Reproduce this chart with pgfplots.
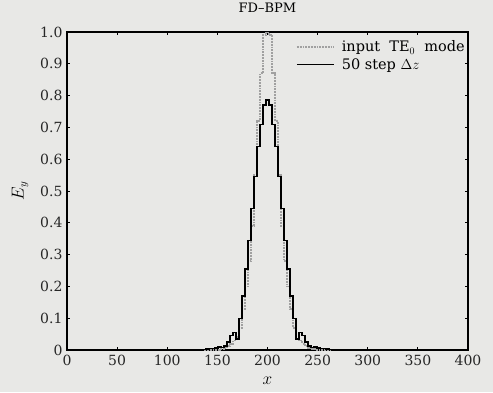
\documentclass[border=0pt]{standalone}
\usepackage{pgfplots}
\pgfplotsset{compat=1.18}
\usepackage{fontspec}
\setmainfont{DejaVu Serif}
\definecolor{bg}{RGB}{232,232,230}
\definecolor{gline}{RGB}{160,160,160}
\pgfplotstableread{
x y
0 0
150 0
155 0.003
158 0.006
161 0.012
164 0.02
167 0.03
170 0.04
173 0.07
176 0.13
179 0.20
182 0.28
185 0.39
188 0.55
191 0.72
194 0.87
197 0.99
200 1.0
203 0.99
206 0.87
209 0.72
212 0.55
215 0.39
218 0.28
221 0.20
224 0.13
227 0.07
230 0.04
233 0.03
236 0.02
239 0.012
242 0.006
245 0.003
250 0
400 0
}\inputmode
\pgfplotstableread{
x y
0 0
134 0
137 0.002
140 0.003
143 0.005
146 0.004
149 0.006
152 0.01
155 0.008
158 0.012
161 0.025
164 0.045
167 0.055
170 0.035
173 0.10
176 0.17
179 0.255
182 0.345
185 0.445
188 0.545
191 0.64
194 0.71
197 0.77
200 0.786
203 0.77
206 0.71
209 0.64
212 0.545
215 0.445
218 0.345
221 0.255
224 0.17
227 0.10
230 0.035
233 0.055
236 0.045
239 0.025
242 0.012
245 0.008
248 0.01
251 0.006
254 0.004
257 0.005
260 0.003
263 0.002
266 0
400 0
}\stepmode
\begin{document}
\begin{tikzpicture}
\fill[bg] (-67pt,-42pt) rectangle (426pt,350pt);
\begin{axis}[
  at={(0pt,0pt)}, anchor=south west, scale only axis,
  width=401pt, height=318pt,
  xmin=0, xmax=400, ymin=0, ymax=1,
  xtick={0,50,100,150,200,250,300,350,400},
  xticklabels={0,50,100,150,200,250,300,350,400},
  ytick={0,0.1,0.2,0.3,0.4,0.5,0.6,0.7,0.8,0.9,1.0},
  yticklabels={0,0.1,0.2,0.3,0.4,0.5,0.6,0.7,0.8,0.9,1.0},
  tick align=inside, major tick length=3pt,
  axis line style={line width=1.3pt},
  tick style={line width=0.9pt, black},
  ticklabel style={font=\fontsize{14}{16}\selectfont, text=black!85},
  xticklabel style={yshift=-2pt},
  yticklabel style={xshift=-1pt},
  title={FD--BPM},
  title style={at={(axis description cs:0.5,1.057)}, anchor=center, font=\fontsize{13}{15}\selectfont},
  xlabel={$x$},
  xlabel style={at={(axis description cs:0.5,-0.097)}, anchor=center, font=\fontsize{16}{17}\selectfont},
  ylabel={$E_y$},
  ylabel style={at={(axis description cs:-0.117,0.5)}, anchor=center, font=\fontsize{16}{17}\selectfont},
  legend cell align=left,
  legend style={at={(axis description cs:1.0,0.982)}, anchor=north east, draw=none, fill=none,
    font=\fontsize{14.5}{16}\selectfont, row sep=1pt, column sep=5pt, inner sep=1pt},
  legend image code/.code={\draw[#1] (0pt,0pt) -- (37pt,0pt);},
]
\addplot[gline, line width=1.8pt, densely dotted, const plot mark mid] table {\inputmode};
\addlegendentry{input\ \ TE$_0$\ \ mode}
\addplot[black, line width=1.4pt, const plot mark mid] table {\stepmode};
\addlegendentry{50 step $\Delta z$}
\end{axis}
\pgfresetboundingbox
\useasboundingbox (-67pt,-42pt) rectangle (426pt,350pt);
\end{tikzpicture}
\end{document}
